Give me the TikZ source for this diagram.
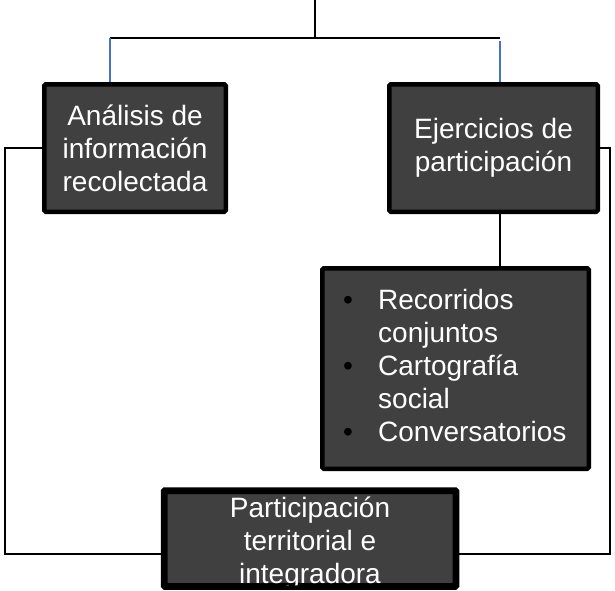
\documentclass[tikz,border=0pt]{standalone}
\usepackage{fontspec}
\setmainfont{Liberation Sans}
\usetikzlibrary{calc}
\definecolor{boxgray}{HTML}{404040}
\definecolor{linkblue}{HTML}{4472C4}
\begin{document}
\begin{tikzpicture}[x=1pt,y=-1pt,
  box/.style={draw=black, line width=4.5pt, fill=boxgray, rounded corners=1.5pt, inner sep=0pt},
  boxtext/.style={text=white, inner sep=0pt, align=center, font=\fontsize{28}{33}\selectfont},
  conn/.style={line width=1.6pt, draw=black},
  blueconn/.style={line width=1.6pt, draw=linkblue}]
\useasboundingbox (0,0) rectangle (615,590);
% connector points
\coordinate (top) at (315,0);
\coordinate (hj) at (315,38);
\coordinate (hl) at (110,38);
\coordinate (hr) at (500,38);
\coordinate (hr2) at (500,41);
\coordinate (lb) at (5,554);
\coordinate (rb) at (610,554);
% boxes
\node[box, minimum width=181.5pt, minimum height=127.5pt] (ana) at (135,148) {};
\node[box, minimum width=208.5pt, minimum height=127.5pt] (eje) at (493.5,148) {};
\node[box, minimum width=266.5pt, minimum height=200.5pt] (bl) at (455.5,368.5) {};
\node[box, minimum width=289.5pt, minimum height=93.5pt] (ptb) at (310,538.5) {};
% connectors
\draw[conn] (top) -- (hj);
\draw[conn] (hl) -- (hr);
\draw[blueconn] (hl) -- (hl |- ana.north);
\draw[blueconn] (hr2) -- (hr |- eje.north);
\draw[conn] (ana.west) -| (lb) -- (lb -| ptb.west);
\draw[conn] (eje.east) -| (rb) -- (rb -| ptb.east);
\draw[conn] (hr |- eje.south) -- (hr |- bl.north);
% texts
\node[boxtext] (anat) at (ana.center) {Análisis de\\información\\recolectada};
\node[boxtext] (ejet) at (eje.center) {Ejercicios de\\participación};
\node[boxtext, anchor=west, align=left] (blt) at (343,368.5) {\begin{tabular}{@{}p{35pt}@{}l@{}}
\textcolor{black}{•}&Recorridos\\
&conjuntos\\
\textcolor{black}{•}&Cartografía\\
&social\\
\textcolor{black}{•}&Conversatorios
\end{tabular}};
\node[boxtext] (ptt) at (310,543) {Participación\\territorial e\\integradora};
\draw[line width=4.5pt, rounded corners=1.5pt] (ptb.south west) rectangle (ptb.north east);
\end{tikzpicture}
\end{document}
